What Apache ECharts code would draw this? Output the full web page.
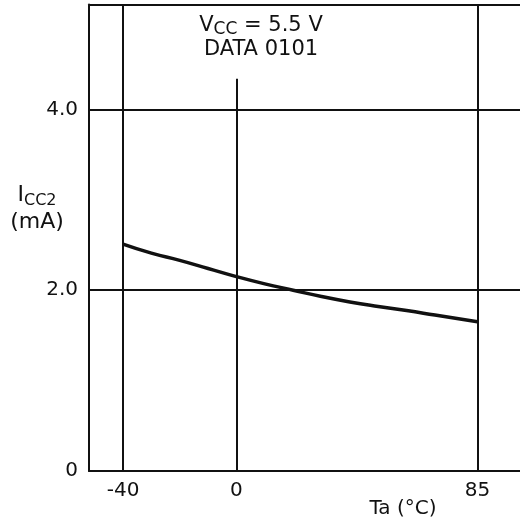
<!DOCTYPE html>
<html>
<head>
<meta charset="utf-8">
<script src="https://cdn.jsdelivr.net/npm/echarts@6/dist/echarts.min.js"></script>
<style>html,body{margin:0;padding:0;background:#fff;}#c{width:520px;height:525px;}</style>
</head>
<body>
<div id="c"></div>
<script>
// Data
var temps = [-40, -30, -20, -10, 0, 10, 20, 30, 40, 50, 60, 70, 85];
var icc = [2.51, 2.41, 2.33, 2.24, 2.15, 2.07, 2.00, 1.93, 1.87, 1.82, 1.775, 1.725, 1.65];
var xTicks = [-40, 0, 85];
var yTicks = [0, 2, 4];
var yTickLabels = ['0', '2.0', '4.0'];
var zeroLineTop = 4.34; // the 0 °C grid line stops below the annotation

var FONT = 'DejaVu Sans';
var INK = '#111';

var chart = echarts.init(document.getElementById('c'), null, {renderer: 'canvas'});
var seriesData = temps.map(function (t, i) { return [t, icc[i]]; });

var markData = [];
xTicks.forEach(function (v) {
  if (v === 0) {
    markData.push([{coord: [v, 0]}, {coord: [v, zeroLineTop]}]);
  } else {
    markData.push({xAxis: v});
  }
});

chart.setOption({
  animation: false,
  backgroundColor: '#fff',
  grid: {left: 89, top: 4.5, width: 434, height: 466.5, show: false},
  xAxis: {
    type: 'value', min: -52, max: 100,
    axisLine: {show: true, onZero: false, lineStyle: {color: INK, width: 2}},
    axisTick: {show: false},
    splitLine: {show: false},
    axisLabel: {
      customValues: xTicks, color: INK, fontFamily: FONT, fontSize: 20, margin: 10,
      formatter: function (v) { return String(v); }
    }
  },
  yAxis: {
    type: 'value', min: 0, max: 5.16, interval: 2,
    axisLine: {show: true, onZero: false, lineStyle: {color: INK, width: 2}},
    axisTick: {show: false},
    splitLine: {show: true, lineStyle: {color: INK, width: 2}},
    axisLabel: {
      color: INK, fontFamily: FONT, fontSize: 20, margin: 11, showMaxLabel: false,
      formatter: function (v) {
        var i = yTicks.indexOf(v);
        return i >= 0 ? yTickLabels[i] : '';
      }
    }
  },
  series: [{
    type: 'line', data: seriesData, smooth: true, showSymbol: false, symbol: 'none',
    lineStyle: {color: INK, width: 3.5},
    z: 5,
    markLine: {
      silent: true, symbol: ['none', 'none'], label: {show: false},
      lineStyle: {color: INK, width: 2, type: 'solid'},
      emphasis: {disabled: true},
      data: markData
    }
  }],
  graphic: [
    {
      type: 'text', x: 261, y: 38, z: 10,
      style: {
        text: 'V{sub|CC} = 5.5 V\nDATA 0101',
        fill: INK, fontFamily: FONT, fontSize: 21, align: 'center', verticalAlign: 'middle',
        lineHeight: 24,
        rich: {
          sub: {fontFamily: FONT, fontSize: 17, fill: INK, verticalAlign: 'bottom', lineHeight: 13}
        }
      }
    },
    {
      type: 'text', x: 37, y: 209, z: 10,
      style: {
        text: 'I{sub|CC2}\n(mA)',
        fill: INK, fontFamily: FONT, fontSize: 22, align: 'center', verticalAlign: 'middle',
        lineHeight: 27,
        rich: {
          sub: {fontFamily: FONT, fontSize: 16, fill: INK, verticalAlign: 'bottom', lineHeight: 20}
        }
      }
    },
    {
      type: 'text', x: 403, y: 509, z: 10,
      style: {
        text: 'Ta (°C)', fill: INK, fontFamily: FONT, fontSize: 20, align: 'center', verticalAlign: 'middle'
      }
    }
  ]
});
</script>
</body>
</html>
